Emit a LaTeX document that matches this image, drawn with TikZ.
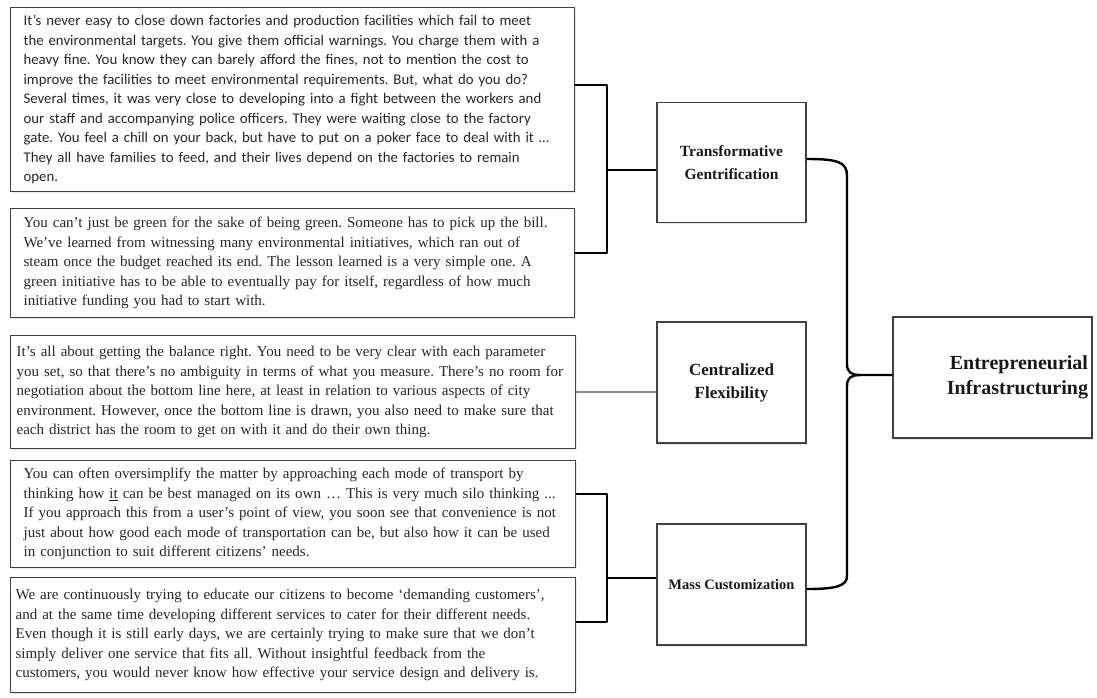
\documentclass[tikz,border=0pt]{standalone}
\usepackage{fontspec}
\setmainfont{Liberation Serif}
\newfontfamily\quotesans{Carlito}
\usetikzlibrary{shadows,calc}
\frenchspacing

\begin{document}
\begin{tikzpicture}[
  x=1pt, y=-1pt,
  quotebox/.style={draw=black!75, line width=1.2pt, fill=white, anchor=north west,
    inner xsep=12pt, inner ysep=3pt, align=left, text=black!85,
    drop shadow={opacity=0.18, shadow xshift=1pt, shadow yshift=-1.5pt}},
  themebox/.style={draw=black!75, line width=1.2pt, fill=white, align=center,
    minimum width=149pt, minimum height=120pt, text=black!90,
    font=\bfseries\fontsize{15.5}{23}\selectfont,
    drop shadow={opacity=0.18, shadow xshift=1pt, shadow yshift=-1.5pt}},
  bracket/.style={draw=black, line width=2.4pt, line join=round},
  thread/.style={draw=black!45, line width=2pt}
]
  \useasboundingbox (0,0) rectangle (1097,697);

  % quotations
  \node[quotebox, minimum width=564pt, minimum height=184pt, text width=538pt,
    font=\quotesans\fontsize{14.8}{19.5}\selectfont] (qa) at (10,7)
    {It’s never easy to close down factories and production facilities which fail to meet\\
     the environmental targets. You give them official warnings. You charge them with a\\
     heavy fine. You know they can barely afford the fines, not to mention the cost to\\
     improve the facilities to meet environmental requirements. But, what do you do?\\
     Several times, it was very close to developing into a fight between the workers and\\
     our staff and accompanying police officers. They were waiting close to the factory\\
     gate. You feel a chill on your back, but have to put on a poker face to deal with it …\\
     They all have families to feed, and their lives depend on the factories to remain\\
     open.};
  \node[quotebox, minimum width=564pt, minimum height=109pt, text width=538pt,
    font=\fontsize{15}{19.5}\selectfont] (qb) at (10,208)
    {You can’t just be green for the sake of being green. Someone has to pick up the bill.\\
     We’ve learned from witnessing many environmental initiatives, which ran out of\\
     steam once the budget reached its end. The lesson learned is a very simple one. A\\
     green initiative has to be able to eventually pay for itself, regardless of how much\\
     initiative funding you had to start with.};
  \node[quotebox, inner xsep=5pt, minimum width=565pt, minimum height=113pt, text width=553pt,
    font=\fontsize{15}{19.5}\selectfont] (qc) at (10,335)
    {It’s all about getting the balance right. You need to be very clear with each parameter\\
     you set, so that there’s no ambiguity in terms of what you measure. There’s no room for\\
     negotiation about the bottom line here, at least in relation to various aspects of city\\
     environment. However, once the bottom line is drawn, you also need to make sure that\\
     each district has the room to get on with it and do their own thing.};
  \node[quotebox, minimum width=565pt, minimum height=107pt, text width=539pt,
    font=\fontsize{15}{19.5}\selectfont] (qd) at (10,460)
    {You can often oversimplify the matter by approaching each mode of transport by\\
     thinking how \underline{it} can be best managed on its own … This is very much silo thinking ...\\
     If you approach this from a user’s point of view, you soon see that convenience is not\\
     just about how good each mode of transportation can be, but also how it can be used\\
     in conjunction to suit different citizens’ needs.};
  \node[quotebox, inner xsep=4pt, minimum width=565pt, minimum height=115pt, text width=555pt,
    font=\fontsize{15}{19.5}\selectfont] (qe) at (10,577)
    {We are continuously trying to educate our citizens to become ‘demanding customers’,\\
     and at the same time developing different services to cater for their different needs.\\
     Even though it is still early days, we are certainly trying to make sure that we don’t\\
     simply deliver one service that fits all. Without insightful feedback from the\\
     customers, you would never know how effective your service design and delivery is.};

  % themes
  \node[themebox] (tg) at (731.5,162.5) {Transformative\\Gentrification};
  \node[themebox, minimum height=121pt, font=\bfseries\fontsize{17}{23}\selectfont] (cf) at (731.5,382.5) {Centralized\\Flexibility};
  \node[themebox, minimum height=121pt, font=\bfseries\fontsize{14.5}{17}\selectfont] (mc) at (731.5,584.5) {Mass Customization};
  \node[themebox, minimum width=199pt, minimum height=121pt, inner xsep=4pt,
    text width=191pt, align=right,
    font=\bfseries\fontsize{20}{25}\selectfont] (ei) at (992.5,377.5) {Entrepreneurial\\Infrastructuring};

  % joins
  \coordinate (ja) at (607,85);
  \coordinate (jb) at (607,253);
  \coordinate (jm) at (607,170);
  \coordinate (jc) at (607,494);
  \coordinate (jd) at (607,622);
  \coordinate (jn) at (607,578);
  \coordinate (cusp) at (860,375);

  \draw[bracket] (qa.east |- ja) -- (ja) -- (jb) -- (qb.east |- jb);
  \draw[bracket] (jm) -- (tg.west |- jm);
  \draw[thread] (qc.east) -- (qc.east -| cf.west);
  \draw[bracket] (qd.east |- jc) -- (jc) -- (jd) -- (qe.east |- jd);
  \draw[bracket] (jn) -- (mc.west |- jn);

  % brace
  \draw[bracket] ($(tg.east)+(0,-3.5)$) .. controls (838,159) and (847,162) .. (847,176)
    -- (847,364) .. controls (847,372) and (851,375) .. (cusp) -- (ei.west |- cusp);
  \draw[bracket] (cusp) .. controls (851,375) and (847,378) .. (847,386)
    -- (847,576) .. controls (847,586) and (836,589) .. ($(mc.east)+(0,4.5)$);
\end{tikzpicture}
\end{document}
